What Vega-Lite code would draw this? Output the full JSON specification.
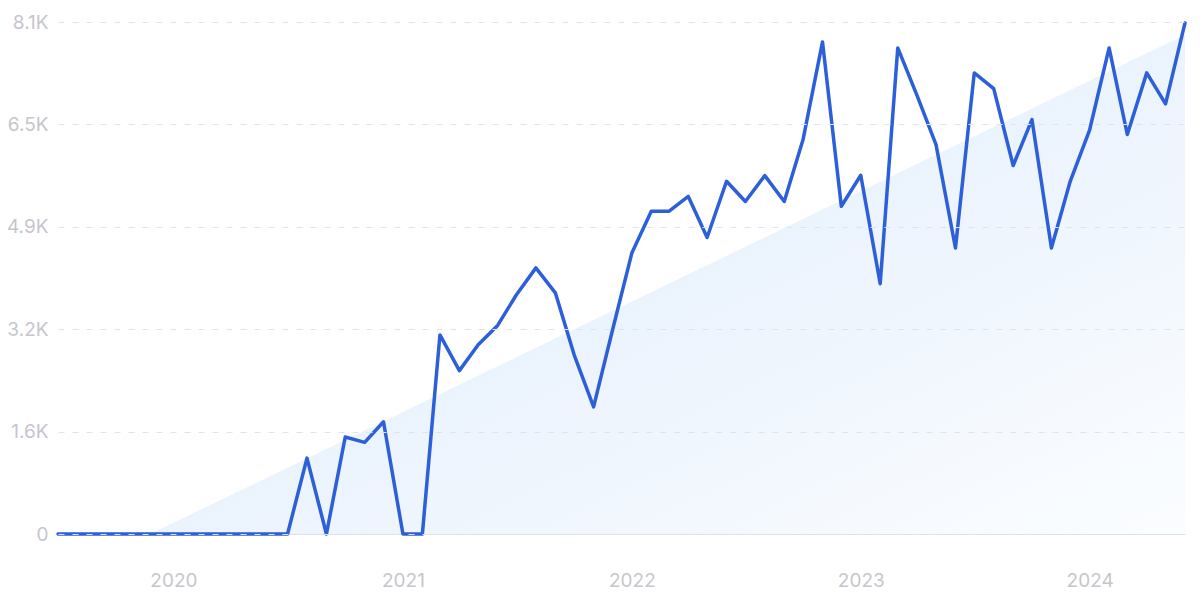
{
  "$schema": "https://vega.github.io/schema/vega-lite/v6.json",
  "width": 1127,
  "height": 512,
  "autosize": "none",
  "padding": {"left": 58, "top": 22, "right": 15, "bottom": 65},
  "background": "white",
  "config": {
    "view": {"stroke": null},
    "font": "Inter"
  },
  "datasets": {
    "series": [
      {"date": "2019-07-01", "value": 0},
      {"date": "2019-08-01", "value": 0},
      {"date": "2019-09-01", "value": 0},
      {"date": "2019-10-01", "value": 0},
      {"date": "2019-11-01", "value": 0},
      {"date": "2019-12-01", "value": 0},
      {"date": "2020-01-01", "value": 0},
      {"date": "2020-02-01", "value": 0},
      {"date": "2020-03-01", "value": 0},
      {"date": "2020-04-01", "value": 0},
      {"date": "2020-05-01", "value": 0},
      {"date": "2020-06-01", "value": 0},
      {"date": "2020-07-01", "value": 0},
      {"date": "2020-08-01", "value": 1200},
      {"date": "2020-09-01", "value": 0},
      {"date": "2020-10-01", "value": 1535},
      {"date": "2020-11-01", "value": 1450},
      {"date": "2020-12-01", "value": 1775},
      {"date": "2021-01-01", "value": 0},
      {"date": "2021-02-01", "value": 0},
      {"date": "2021-03-01", "value": 3150},
      {"date": "2021-04-01", "value": 2585},
      {"date": "2021-05-01", "value": 2995},
      {"date": "2021-06-01", "value": 3300},
      {"date": "2021-07-01", "value": 3785},
      {"date": "2021-08-01", "value": 4210},
      {"date": "2021-09-01", "value": 3815},
      {"date": "2021-10-01", "value": 2835},
      {"date": "2021-11-01", "value": 2010},
      {"date": "2021-12-01", "value": 3220},
      {"date": "2022-01-01", "value": 4445},
      {"date": "2022-02-01", "value": 5105},
      {"date": "2022-03-01", "value": 5105},
      {"date": "2022-04-01", "value": 5340},
      {"date": "2022-05-01", "value": 4690},
      {"date": "2022-06-01", "value": 5580},
      {"date": "2022-07-01", "value": 5260},
      {"date": "2022-08-01", "value": 5670},
      {"date": "2022-09-01", "value": 5260},
      {"date": "2022-10-01", "value": 6240},
      {"date": "2022-11-01", "value": 7785},
      {"date": "2022-12-01", "value": 5185},
      {"date": "2023-01-01", "value": 5675},
      {"date": "2023-02-01", "value": 3960},
      {"date": "2023-03-01", "value": 7690},
      {"date": "2023-04-01", "value": 6930},
      {"date": "2023-05-01", "value": 6160},
      {"date": "2023-06-01", "value": 4525},
      {"date": "2023-07-01", "value": 7295},
      {"date": "2023-08-01", "value": 7045},
      {"date": "2023-09-01", "value": 5830},
      {"date": "2023-10-01", "value": 6555},
      {"date": "2023-11-01", "value": 4525},
      {"date": "2023-12-01", "value": 5580},
      {"date": "2024-01-01", "value": 6395},
      {"date": "2024-02-01", "value": 7690},
      {"date": "2024-03-01", "value": 6320},
      {"date": "2024-04-01", "value": 7295},
      {"date": "2024-05-01", "value": 6805},
      {"date": "2024-06-01", "value": 8085}
    ],
    "trend": [
      {"date": "2019-11-25", "value": 0},
      {"date": "2024-06-01", "value": 7900}
    ]
  },
  "layer": [
    {
      "data": {"name": "trend"},
      "mark": {
        "type": "area",
        "color": {
          "gradient": "linear",
          "x1": 0, "y1": 0, "x2": 1, "y2": 1,
          "stops": [
            {"offset": 0, "color": "#dde9fb"},
            {"offset": 0.5, "color": "#ebf3fd"},
            {"offset": 1, "color": "#fbfdff"}
          ]
        }
      },
      "encoding": {
        "x": {
          "field": "date",
          "type": "temporal",
          "scale": {"type": "utc", "domain": ["2019-07-01", "2024-06-01"]},
          "axis": {
            "title": null,
            "format": "%Y",
            "tickCount": 5,
            "grid": false,
            "ticks": false,
            "domain": true,
            "domainColor": "#d9e1ee",
            "domainWidth": 1,
            "labelColor": "#c6c6cc",
            "labelFontSize": 19,
            "labelPadding": 37,
            "labelFont": "Inter"
          }
        },
        "y": {
          "field": "value",
          "type": "quantitative",
          "scale": {"domain": [0, 8100], "nice": false},
          "axis": {
            "title": null,
            "values": [0, 1620, 3240, 4860, 6480, 8100],
            "labelExpr": "datum.value == 0 ? '0' : format(datum.value / 1000, '.1f') + 'K'",
            "grid": true,
            "gridColor": "#dde4ef",
            "gridDash": [6, 8],
            "gridWidth": 1,
            "ticks": false,
            "domain": false,
            "labelColor": "#c6c6cc",
            "labelFontSize": 19,
            "labelPadding": 10,
            "labelFont": "Inter",
            "zindex": 1
          }
        }
      }
    },
    {
      "data": {"name": "series"},
      "mark": {"type": "line", "color": "#2d5fd8", "strokeWidth": 3.5, "strokeJoin": "round", "strokeCap": "round"},
      "encoding": {
        "x": {"field": "date", "type": "temporal"},
        "y": {"field": "value", "type": "quantitative"}
      }
    }
  ]
}
